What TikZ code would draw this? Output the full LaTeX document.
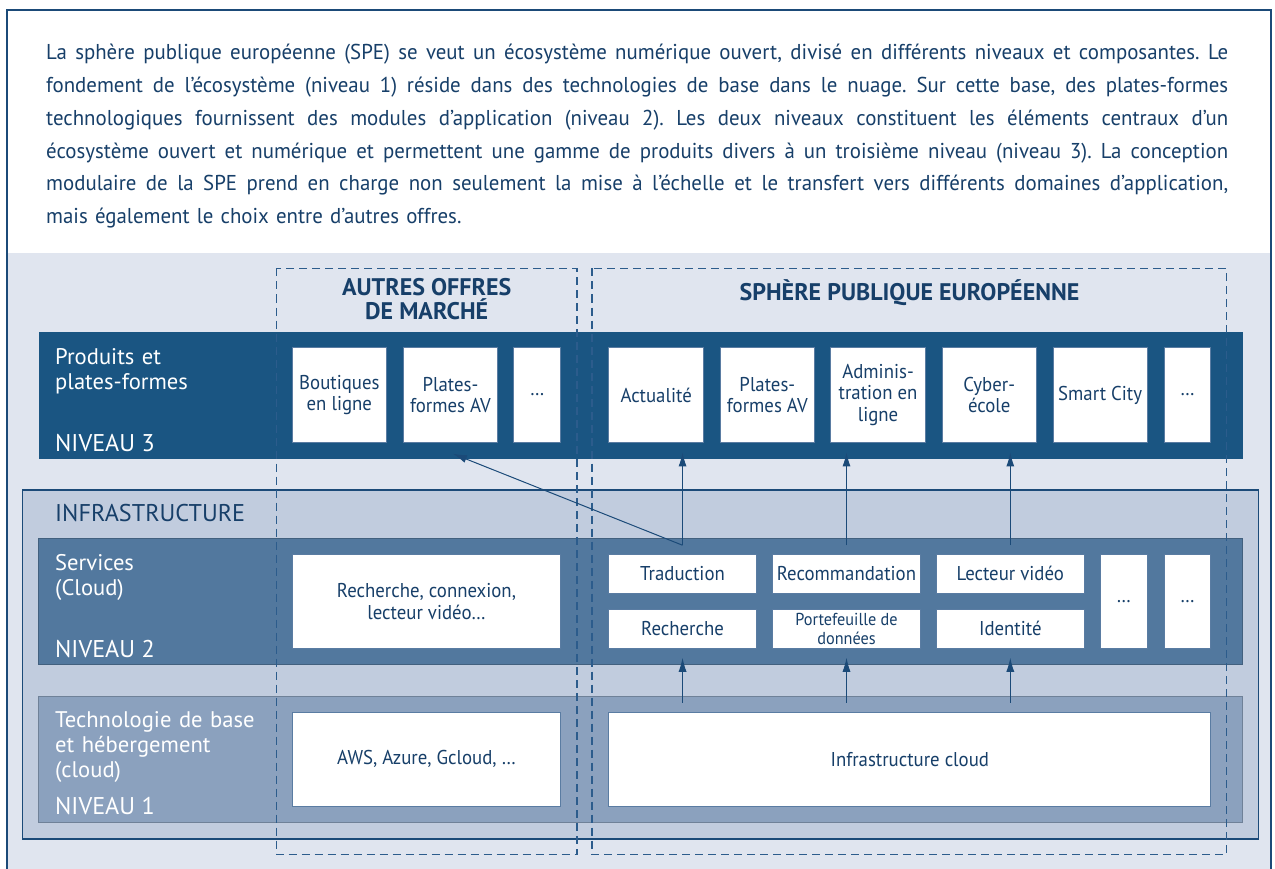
\documentclass[tikz,border=0pt]{standalone}
\usepackage{fontspec}
\setmainfont{PT Sans}
\newfontfamily\boxfont{PT Sans}[FakeStretch=0.94]
\newfontfamily\parafont{PT Sans}[FakeStretch=0.97]
\usetikzlibrary{arrows.meta}
\definecolor{bandA}{HTML}{1A5582}
\definecolor{bandB}{HTML}{52789E}
\definecolor{bandC}{HTML}{8BA1BE}
\definecolor{infraf}{HTML}{C1CCDE}
\definecolor{lightbg}{HTML}{E0E5EF}
\definecolor{ink}{HTML}{173F69}
\definecolor{framec}{HTML}{1B4A78}
\definecolor{dashc}{HTML}{2C5C8C}
\definecolor{boxedge}{HTML}{5A7CA2}
\newcommand\jline[1]{\makebox[1182pt][s]{\spaceskip=0pt\xspaceskip=0pt\frenchspacing #1}}
\begin{document}
\begin{tikzpicture}[x=1pt,y=-1pt,
  wbox/.style={draw=boxedge, line width=0.9pt, fill=white, inner sep=0pt, align=center, text=ink,
    font=\boxfont\fontsize{20}{21.6}\selectfont},
  smallbox/.style={wbox, font=\boxfont\fontsize{17.3}{18.7}\selectfont},
  lbl/.style={text=white, anchor=base west, align=left, inner sep=0pt, text width=230pt,
    font=\fontsize{22.6}{25}\selectfont},
  niv/.style={text=white, anchor=base west, inner sep=0pt, font=\fontsize{24.2}{25}\selectfont},
  ttl/.style={text=ink, align=center, inner sep=0pt, font=\bfseries\fontsize{24}{24.3}\selectfont},
  arr/.style={draw=framec, line width=1pt, -{Latex[length=14pt,width=8pt]}},
  band/.style={draw=#1!80!black, line width=0.8pt, fill=#1},
  dbox/.style={draw=dashc, line width=1.2pt, dash pattern=on 8pt off 5pt}
]
\useasboundingbox (0,0) rectangle (1275,869);
\clip (0,0) rectangle (1275,869);
% frame and backgrounds
\fill[white] (0,0) rectangle (1275,869);
\fill[lightbg] (7,253) rectangle (1271,900);
\draw[framec, line width=1.3pt] (7,10) rectangle (1271,900);

% paragraph
\node[anchor=base west, inner sep=0pt, text width=1182pt, align=left, text=ink,
  font=\parafont\fontsize{21.5}{32.7}\selectfont] (para) at (46,60) {%
\jline{La sphère publique européenne (SPE) se veut un écosystème numérique ouvert, divisé en différents niveaux et composantes. Le}\\
\jline{fondement de l’écosystème (niveau 1) réside dans des technologies de base dans le nuage. Sur cette base, des plates-formes}\\
\jline{technologiques fournissent des modules d’application (niveau 2). Les deux niveaux constituent les éléments centraux d’un}\\
\jline{écosystème ouvert et numérique et permettent une gamme de produits divers à un troisième niveau (niveau 3). La conception}\\
\jline{modulaire de la SPE prend en charge non seulement la mise à l’échelle et le transfert vers différents domaines d’application,}\\
mais également le choix entre d’autres offres.};

% bands
\fill[bandA] (38.8,332.3) rectangle (1242.7,458.7);
\draw[framec, line width=1.1pt, fill=infraf] (22.4,490) rectangle (1258.5,839);
\draw[band=bandB] (38.8,538.3) rectangle (1242.7,664);
\draw[band=bandC] (38.8,696.7) rectangle (1242.7,822.7);

% dashed groups
\draw[dbox] (276.5,268.5) rectangle (577,854.3);
\draw[dbox] (592,268.5) rectangle (1226.5,854.3);

% titles
\node[ttl, anchor=base] (t1) at (426.7,319.3) {AUTRES OFFRES\\DE MARCHÉ};
\node[ttl, anchor=base] (t2) at (909.5,300) {SPHÈRE PUBLIQUE EUROPÉENNE};

% left labels
\node[lbl] (l3) at (55,364) {Produits et\\plates-formes};
\node[niv] (n3) at (55,451.7) {NIVEAU 3};
\node[niv, text=ink] (linf) at (55,521.7) {INFRASTRUCTURE};
\node[lbl] (l2) at (55,570) {Services\\(Cloud)};
\node[niv] (n2) at (55,657.3) {NIVEAU 2};
\node[lbl] (l1) at (55,727.3) {Technologie de base\\et hébergement\\(cloud)};
\node[niv] (n1) at (55,814.3) {NIVEAU 1};

% level 3 boxes
\node[wbox, minimum width=94.3pt, minimum height=94.6pt] (bout) at (339.35,395) {Boutiques\\en ligne};
\node[wbox, minimum width=94.3pt, minimum height=94.6pt] (pfa) at (450.45,395) {Plates-\\formes AV};
\node[wbox, minimum width=46.9pt, minimum height=94.6pt] (dta) at (537.35,395) {…};
\node[wbox, minimum width=94.5pt, minimum height=94.6pt] (actu) at (656.15,395) {Actualité};
\node[wbox, minimum width=94.1pt, minimum height=94.6pt] (pfb) at (767.35,395) {Plates-\\formes AV};
\node[wbox, minimum width=94.5pt, minimum height=94.6pt] (admin) at (878.05,395) {Adminis-\\tration en\\ligne};
\node[wbox, minimum width=94.1pt, minimum height=94.6pt] (cyber) at (989.25,395) {Cyber-\\école};
\node[wbox, minimum width=94.1pt, minimum height=94.6pt] (smart) at (1100.15,395) {Smart City};
\node[wbox, minimum width=46.6pt, minimum height=94.6pt] (dtb) at (1187.4,395) {…};

% level 2 boxes
\node[wbox, minimum width=268.6pt, minimum height=94pt] (rcl) at (426.5,601.3) {Recherche, connexion,\\lecteur vidéo…};
\node[wbox, minimum width=147.3pt, minimum height=39pt] (trad) at (682.55,573.5) {Traduction};
\node[wbox, minimum width=147.8pt, minimum height=39pt] (reco) at (846.5,573.5) {Recommandation};
\node[wbox, minimum width=147.8pt, minimum height=39pt] (lect) at (1010.3,573.5) {Lecteur vidéo};
\node[wbox, minimum width=147.3pt, minimum height=39.3pt] (rech) at (682.55,628.65) {Recherche};
\node[smallbox, minimum width=147.8pt, minimum height=39.3pt] (porte) at (846.5,628.65) {Portefeuille de\\données};
\node[wbox, minimum width=147.8pt, minimum height=39.3pt] (ident) at (1010.3,628.65) {Identité};
\node[wbox, minimum width=47pt, minimum height=94.3pt] (dtc) at (1123.7,601.15) {…};
\node[wbox, minimum width=46.6pt, minimum height=94.3pt] (dtd) at (1187.4,601.15) {…};

% level 1 boxes
\node[wbox, minimum width=268.6pt, minimum height=94.7pt] (aws) at (426.5,759.35) {AWS, Azure, Gcloud, …};
\node[wbox, minimum width=601.8pt, minimum height=94.7pt] (icl) at (909.8,759.35) {Infrastructure cloud};

% arrows level 2 -> level 3
\coordinate (s1) at ([yshift=8.3pt]trad.north);
\coordinate (s2) at ([yshift=8.3pt]reco.north);
\coordinate (s3) at ([yshift=8.3pt]lect.north);
\draw[arr] (s1) -- ([yshift=-9.7pt]actu.south -| s1);
\draw[arr] (s2) -- ([yshift=-9.7pt]admin.south -| s2);
\draw[arr] (s3) -- ([yshift=-9.7pt]cyber.south -| s3);
\draw[arr] (s1) -- ([xshift=2.5pt,yshift=-11pt]pfa.south);

% arrows level 1 -> level 2
\coordinate (b1) at ([yshift=8.7pt]icl.north -| rech.south);
\coordinate (b2) at ([yshift=8.7pt]icl.north -| porte.south);
\coordinate (b3) at ([yshift=8.7pt]icl.north -| ident.south);
\draw[arr] (b1) -- ([yshift=-9pt]rech.south);
\draw[arr] (b2) -- ([yshift=-9pt]porte.south);
\draw[arr] (b3) -- ([yshift=-9pt]ident.south);
\end{tikzpicture}
\end{document}
